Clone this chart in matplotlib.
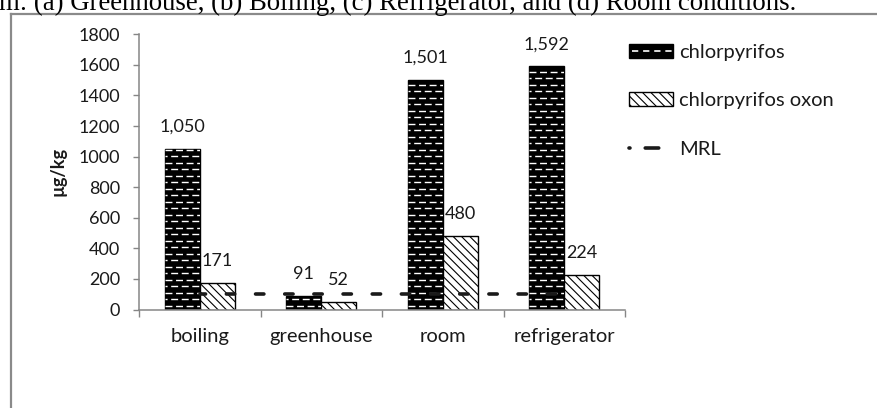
import matplotlib
matplotlib.use("Agg")
import matplotlib.pyplot as plt
from matplotlib.patches import Rectangle
from matplotlib.lines import Line2D
from matplotlib.legend_handler import HandlerBase

plt.rcParams['font.family'] = ['Lato', 'DejaVu Sans']
plt.rcParams['lines.scale_dashes'] = False
plt.rcParams['hatch.linewidth'] = 0.8

categories = ['boiling', 'greenhouse', 'room', 'refrigerator']
chlorpyrifos = [1050, 91, 1501, 1592]
oxon = [171, 52, 480, 224]
mrl = [100, 100, 100, 100]
yticks = [0, 200, 400, 600, 800, 1000, 1200, 1400, 1600, 1800]
caption = "m: (a) Greenhouse, (b) Boiling, (c) Refrigerator, and (d) Room conditions."

W, H, DPI = 877, 408, 100
fig = plt.figure(figsize=(W / DPI, H / DPI), dpi=DPI)
left, right = 139 / W, 625 / W
bottom, top = 1 - 309.5 / H, 1 - 34.3 / H
ax = fig.add_axes([left, bottom, right - left, top - bottom])

gray = '#868686'
txt = '#1a1a1a'
fs_num = 13
fs_txt = 14.5
bw = 0.288
x = list(range(len(categories)))

bars1 = ax.bar([i - bw / 2 for i in x], chlorpyrifos, width=bw, color='black',
               edgecolor='black', linewidth=1.0, zorder=2)
bars2 = ax.bar([i + bw / 2 for i in x], oxon, width=bw, color='white',
               edgecolor='black', hatch='\\\\\\\\', linewidth=1.0, zorder=2)

ax.set_ylim(0, 1800)
ax.set_xlim(-0.5, len(categories) - 0.5)

# dashed-horizontal pattern on black bars
ax_h_px = (top - bottom) * H
row_px = 6.5
row_data = row_px / ax_h_px * 1800
for b in bars1:
    x0, y0 = b.get_x(), b.get_y()
    x1, y1 = x0 + b.get_width(), y0 + b.get_height()
    k = 0
    yy = y0 + row_data * 0.6
    while yy < y1:
        ln, = ax.plot([x0, x1], [yy, yy], color='white', lw=1.0, zorder=3,
                      solid_capstyle='butt')
        ln.set_linestyle(((k % 2) * 3.5, (5.0, 2.6)))
        ln.set_clip_path(b)
        yy += row_data
        k += 1

# MRL line
mrl_line, = ax.plot(x, mrl, color=txt, lw=2.6, zorder=4,
                    dash_capstyle='round')
mrl_line.set_linestyle((2, (6.0, 15.0)))

# data labels
for b, v in zip(list(bars1) + list(bars2), chlorpyrifos + oxon):
    ax.annotate(f"{v:,}", (b.get_x() + b.get_width() / 2, b.get_height()),
                xytext=(0, 10), textcoords='offset points', ha='center',
                va='bottom', fontsize=fs_num, color=txt)

# axes styling
for s in ['top', 'right']:
    ax.spines[s].set_visible(False)
for s in ['left', 'bottom']:
    ax.spines[s].set_color(gray)
    ax.spines[s].set_linewidth(1.1)
ax.set_yticks(yticks)
ax.set_yticklabels([str(t) for t in yticks], fontsize=fs_num, color=txt)
ax.tick_params(axis='y', direction='out', length=4.5, color=gray, width=1.0, pad=9)
ax.set_xticks(x)
ax.set_xticklabels(categories, fontsize=fs_txt, color=txt)
ax.tick_params(axis='x', which='major', length=0, pad=13)
ax.set_xticks([i - 0.5 for i in range(len(categories) + 1)], minor=True)
ax.tick_params(axis='x', which='minor', direction='out', length=5, color=gray, width=1.0)
ax.set_ylabel('µg/kg', fontsize=fs_num, fontweight='bold', color=txt)


class DashedBarHandler(HandlerBase):
    def create_artists(self, legend, orig_handle, xdescent, ydescent, width,
                       height, fontsize, trans):
        r = Rectangle((-xdescent, -ydescent), width, height, facecolor='black',
                      edgecolor='black', lw=1.0, transform=trans)
        ln = Line2D([-xdescent + 2, -xdescent + width - 1],
                    [-ydescent + height / 2] * 2, color='white', lw=1.2,
                    transform=trans)
        ln.set_linestyle((0, (4.5, 3.5)))
        return [r, ln]


h1 = Rectangle((0, 0), 1, 1, facecolor='black')
h2 = Rectangle((0, 0), 1, 1, facecolor='white', edgecolor='black',
               hatch='\\\\\\\\', lw=1.0)
h3 = Line2D([0], [0], color=txt, lw=2.6, dash_capstyle='round')
h3.set_linestyle((9.0, (9.7, 11.0)))
leg = fig.legend([h1, h2, h3], ['chlorpyrifos', 'chlorpyrifos oxon', 'MRL'],
                 handler_map={h1: DashedBarHandler()},
                 loc='upper left', bbox_to_anchor=(629 / W, 1 - 44 / H),
                 frameon=False, fontsize=fs_txt, handlelength=2.2,
                 handleheight=0.7, handletextpad=0.3, labelspacing=1.55,
                 borderaxespad=0, borderpad=0)
for t in leg.get_texts():
    t.set_color(txt)

# outer chart border (gray), open on right and bottom
fig.add_artist(Line2D([11 / W, 11 / W], [1 - 14 / H, 0], color='#8a8a8a',
                      lw=1.6, transform=fig.transFigure))
fig.add_artist(Line2D([11 / W, 1], [1 - 14 / H, 1 - 14 / H], color='#8a8a8a',
                      lw=1.6, transform=fig.transFigure))

# clipped caption line from the source document
cap = fig.text(-1 / W, 1 - 9.5 / H, caption,
               family=['Liberation Serif', 'DejaVu Serif'],
               fontsize=14, va='baseline', ha='left', color='black')

fig.canvas.draw()
r = fig.canvas.get_renderer()
bb = cap.get_window_extent(r)
cap.set_fontsize(14 * 801 / bb.width)
ax.yaxis.set_label_coords(-0.166, 0.5)
lab_bb = ax.yaxis.label.get_window_extent(r)
cx = (lab_bb.x0 + lab_bb.x1) / 2
ax_bb = ax.get_window_extent(r)
cur = -0.166
target_cx = 58
ax.yaxis.set_label_coords(cur + (target_cx - cx) / ax_bb.width, 0.5)

fig.savefig('out.png', dpi=DPI)
